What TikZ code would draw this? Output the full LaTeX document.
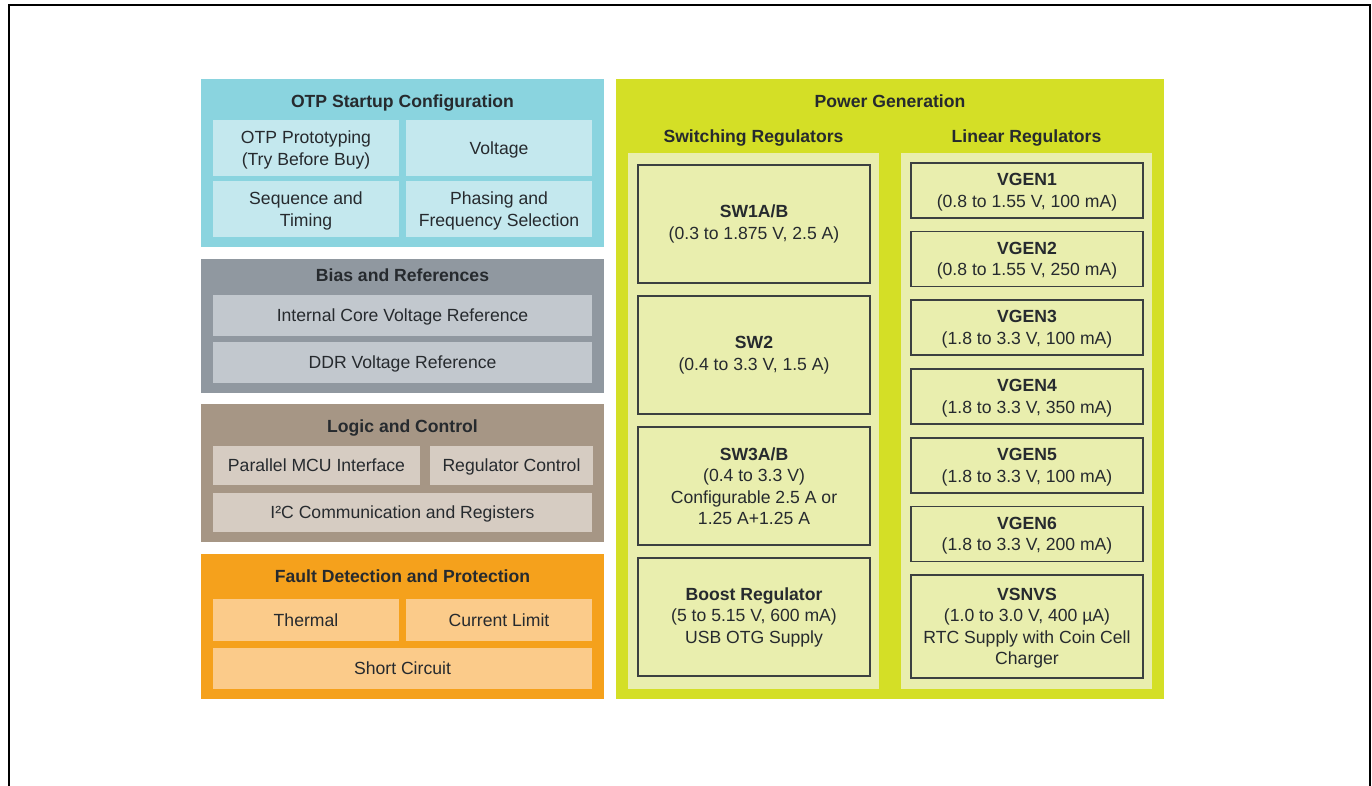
\documentclass[tikz,border=0pt]{standalone}
\usepackage{fontspec}
\setmainfont{Liberation Sans}
\definecolor{txt}{HTML}{262A2E}
\definecolor{otpO}{HTML}{8AD4DF}
\definecolor{otpI}{HTML}{C4E8EE}
\definecolor{biaO}{HTML}{9098A0}
\definecolor{biaI}{HTML}{C2C8CE}
\definecolor{logO}{HTML}{A69685}
\definecolor{logI}{HTML}{D6CCC2}
\definecolor{fltO}{HTML}{F5A11C}
\definecolor{fltI}{HTML}{FBCB8A}
\definecolor{pwrO}{HTML}{D4DF26}
\definecolor{pwrI}{HTML}{E9EEAE}
\definecolor{bord}{HTML}{3C4040}
\tikzset{
  base/.style={inner sep=0pt, outer sep=0pt, align=center, text=txt,
    font=\fontsize{17.6}{21.5}\selectfont, text depth=0pt},
  panel/.style={base, fill=#1, draw=none},
  ttl/.style={base, font=\bfseries\fontsize{17.6}{21.5}\selectfont},
  reg/.style={base, fill=pwrI, draw=bord, line width=1.2pt},
  swreg/.style={reg, text depth=},
  wh/.style 2 args={minimum width=#1, minimum height=#2},
}
\begin{document}
\begin{tikzpicture}[x=1pt, y=-1pt]
\useasboundingbox (0,0) rectangle (1372,786);
% frame
\coordinate (fbl) at (9,786);
\coordinate (ftl) at (9,5.5);
\coordinate (ftr) at (1369.5,5.5);
\coordinate (fbr) at (1369.5,786);
\draw[line width=2pt, black] (fbl) -- (ftl) -- (ftr) -- (fbr);

% ---------- OTP ----------
\node[panel=otpO, wh={403}{168}] (otp) at (402.5,163) {};
\node[ttl] (otpT) at (402.5,101) {OTP Startup Configuration};
\node[panel=otpI, wh={186}{56}] (otp1) at (306,148) {OTP Prototyping\\(Try Before Buy)};
\node[panel=otpI, wh={186}{56}] (otp2) at (499,148) {Voltage};
\node[panel=otpI, wh={186}{56}] (otp3) at (306,209) {Sequence and\\Timing};
\node[panel=otpI, wh={186}{56}] (otp4) at (499,209) {Phasing and\\Frequency Selection};

% ---------- Bias ----------
\node[panel=biaO, wh={403}{134}] (bia) at (402.5,326) {};
\node[ttl] (biaT) at (402.5,275) {Bias and References};
\node[panel=biaI, wh={379}{41}] (bia1) at (402.5,315.5) {Internal Core Voltage Reference};
\node[panel=biaI, wh={379}{41}] (bia2) at (402.5,362.5) {DDR Voltage Reference};

% ---------- Logic ----------
\node[panel=logO, wh={403}{138}] (log) at (402.5,473) {};
\node[ttl] (logT) at (402.5,426) {Logic and Control};
\node[panel=logI, wh={207}{39}] (log1) at (316.5,465.5) {Parallel MCU Interface};
\node[panel=logI, wh={163}{39}] (log2) at (511.5,465.5) {Regulator Control};
\node[panel=logI, wh={379}{39}] (log3) at (402.5,512.5) {I²C Communication and Registers};

% ---------- Fault ----------
\node[panel=fltO, wh={403}{145}] (flt) at (402.5,626.5) {};
\node[ttl] (fltT) at (402.5,576) {Fault Detection and Protection};
\node[panel=fltI, wh={186}{42}] (flt1) at (306,620) {Thermal};
\node[panel=fltI, wh={186}{42}] (flt2) at (499,620) {Current Limit};
\node[panel=fltI, wh={379}{41}] (flt3) at (402.5,668.5) {Short Circuit};

% ---------- Power ----------
\node[panel=pwrO, wh={548}{620}] (pwr) at (890,389) {};
\node[ttl] (pwrT) at (890,101) {Power Generation};
\node[ttl] (swT) at (753.5,136) {Switching Regulators};
\node[ttl] (linT) at (1026.5,136) {Linear Regulators};
\node[panel=pwrI, wh={251}{536}] (sw) at (753.5,421) {};
\node[panel=pwrI, wh={251}{536}] (lin) at (1026.5,421) {};

\node[swreg, wh={232}{118}] (sw1) at (754,224) {\textbf{SW1A/B}\\(0.3 to 1.875 V, 2.5 A)};
\node[swreg, wh={232}{118}] (sw2) at (754,355) {\textbf{SW2}\\(0.4 to 3.3 V, 1.5 A)};
\node[swreg, wh={232}{118}] (sw3) at (754,486) {\textbf{SW3A/B}\\(0.4 to 3.3 V)\\Configurable 2.5 A or\\1.25 A+1.25 A};
\node[swreg, wh={232}{118}] (bst) at (754,617) {\textbf{Boost Regulator}\\(5 to 5.15 V, 600 mA)\\USB OTG Supply};

\node[reg, wh={232}{55}] (vg1) at (1027,190.5) {\textbf{VGEN1}\\(0.8 to 1.55 V, 100 mA)};
\node[reg, wh={232}{55}] (vg2) at (1027,259) {\textbf{VGEN2}\\(0.8 to 1.55 V, 250 mA)};
\node[reg, wh={232}{55}] (vg3) at (1027,327.5) {\textbf{VGEN3}\\(1.8 to 3.3 V, 100 mA)};
\node[reg, wh={232}{55}] (vg4) at (1027,396.5) {\textbf{VGEN4}\\(1.8 to 3.3 V, 350 mA)};
\node[reg, wh={232}{55}] (vg5) at (1027,465.5) {\textbf{VGEN5}\\(1.8 to 3.3 V, 100 mA)};
\node[reg, wh={232}{55}] (vg6) at (1027,534) {\textbf{VGEN6}\\(1.8 to 3.3 V, 200 mA)};
\node[reg, wh={232}{103}] (vsn) at (1027,626.5) {\textbf{VSNVS}\\(1.0 to 3.0 V, 400 µA)\\RTC Supply with Coin Cell\\Charger};
\end{tikzpicture}
\end{document}
